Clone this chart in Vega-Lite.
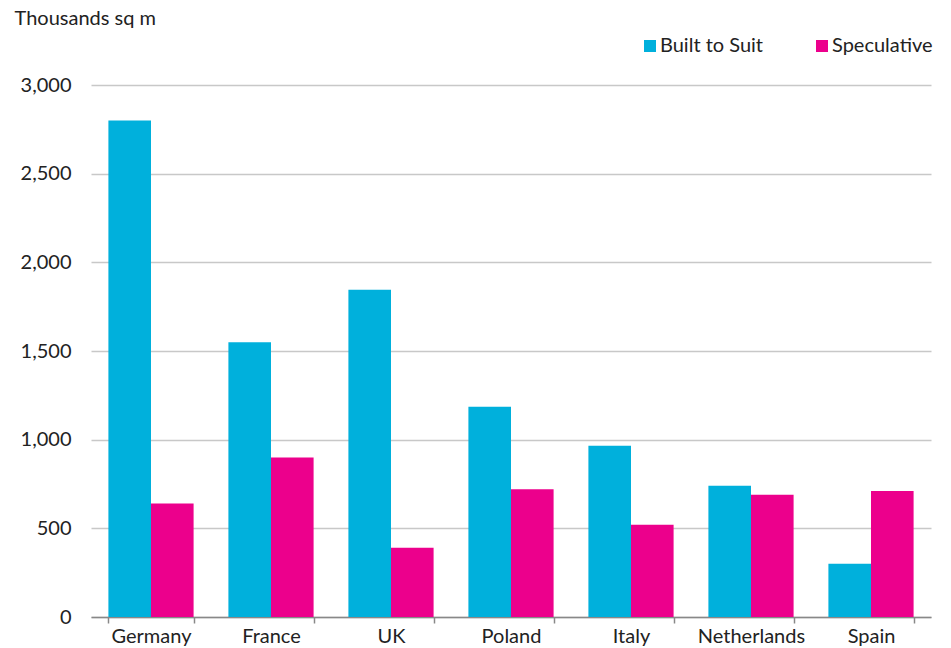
{
  "$schema": "https://vega.github.io/schema/vega-lite/v6.json",
  "width": 840,
  "height": 532,
  "autosize": {"type": "none"},
  "padding": {"left": 91, "top": 85, "right": 20, "bottom": 31},
  "background": "white",
  "data": {
    "values": [
      {"country": "Germany", "type": "Built to Suit", "value": 2800},
      {"country": "Germany", "type": "Speculative", "value": 640},
      {"country": "France", "type": "Built to Suit", "value": 1550},
      {"country": "France", "type": "Speculative", "value": 900},
      {"country": "UK", "type": "Built to Suit", "value": 1845},
      {"country": "UK", "type": "Speculative", "value": 390},
      {"country": "Poland", "type": "Built to Suit", "value": 1185},
      {"country": "Poland", "type": "Speculative", "value": 720},
      {"country": "Italy", "type": "Built to Suit", "value": 965},
      {"country": "Italy", "type": "Speculative", "value": 520},
      {"country": "Netherlands", "type": "Built to Suit", "value": 740},
      {"country": "Netherlands", "type": "Speculative", "value": 690},
      {"country": "Spain", "type": "Built to Suit", "value": 300},
      {"country": "Spain", "type": "Speculative", "value": 710}
    ]
  },
  "config": {
    "font": "Lato",
    "view": {"stroke": null},
    "axis": {"labelFont": "Lato", "labelColor": "#222222", "labelFontSize": 20, "titleFont": "Lato"},
    "legend": {"labelFont": "Lato"}
  },
  "mark": {"type": "bar"},
  "encoding": {
    "x": {
      "field": "country",
      "type": "nominal",
      "sort": ["Germany", "France", "UK", "Poland", "Italy", "Netherlands", "Spain"],
      "scale": {"paddingInner": 0.29, "paddingOuter": 0.145},
      "axis": {
        "title": null,
        "labelAngle": 0,
        "bandPosition": 0,
        "tickBand": "extent",
        "domainColor": "#888888",
        "domainWidth": 1.5,
        "tickColor": "#888888",
        "tickWidth": 1.5,
        "tickSize": 6,
        "labelPadding": 3,
        "grid": false
      }
    },
    "xOffset": {"field": "type", "type": "nominal", "sort": ["Built to Suit", "Speculative"], "scale": {"paddingInner": 0, "paddingOuter": 0}},
    "y": {
      "field": "value",
      "type": "quantitative",
      "scale": {"domain": [0, 3000]},
      "axis": {
        "values": [0, 500, 1000, 1500, 2000, 2500, 3000],
        "format": ",.0f",
        "domain": false,
        "ticks": false,
        "labelPadding": 20,
        "gridColor": "#c8c8c8",
        "gridWidth": 1.5,
        "title": "Thousands sq m",
        "titleAngle": 0,
        "titleAlign": "left",
        "titleBaseline": "top",
        "titleX": -77,
        "titleY": -77,
        "titleFontSize": 20,
        "titleFontWeight": "normal",
        "titleColor": "#222222"
      }
    },
    "color": {
      "field": "type",
      "type": "nominal",
      "scale": {"domain": ["Built to Suit", "Speculative"], "range": ["#00B0DC", "#EC008C"]},
      "legend": {
        "title": null,
        "orient": "none",
        "legendX": 549,
        "legendY": -49,
        "direction": "horizontal",
        "symbolType": "square",
        "symbolSize": 144,
        "symbolStrokeWidth": 0,
        "symbolOpacity": 1,
        "labelFontSize": 20,
        "labelColor": "#222222",
        "labelOffset": 0,
        "columnPadding": 48
      }
    }
  }
}
